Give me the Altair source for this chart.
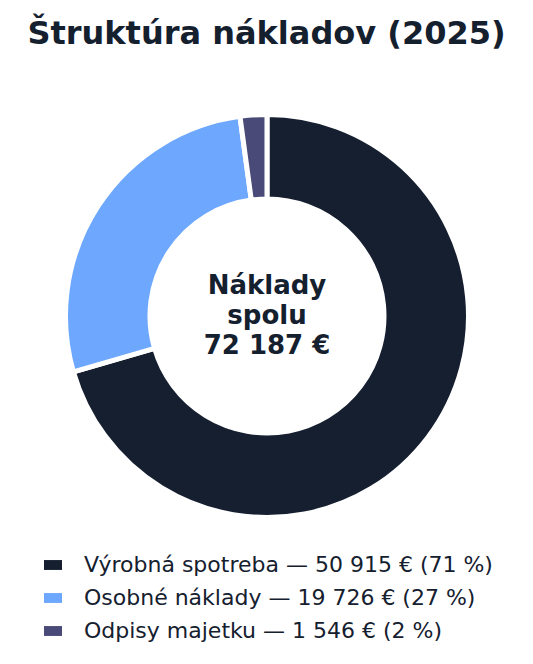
import altair as alt
import pandas as pd

categories = ["Výrobná spotreba", "Osobné náklady", "Odpisy majetku"]
values = [50915, 19726, 1546]
colors = ["#151f30", "#6ea8fe", "#4a4a78"]

total = sum(values)

def fmt(n):
    return f"{n:,}".replace(",", " ")

labels = [f"{c} — {fmt(v)} € ({round(v / total * 100)} %)" for c, v in zip(categories, values)]

df = pd.DataFrame({
    "label": labels,
    "value": values,
    "order": list(range(len(values))),
})
center_df = pd.DataFrame({"t": [f"Náklady\nspolu\n{fmt(total)} €"]})

P = 60
CX, CY = 259, 308 - P

arc = alt.Chart(df).mark_arc(
    innerRadius=117, outerRadius=201.5, stroke="white", strokeWidth=5
).encode(
    theta=alt.Theta("value:Q", stack=True),
    order=alt.Order("order:Q"),
    x=alt.value(CX),
    y=alt.value(CY),
    color=alt.Color(
        "label:N",
        sort=labels,
        scale=alt.Scale(domain=labels, range=colors),
        legend=alt.Legend(
            title=None,
            orient="none",
            legendX=34,
            legendY=546 - P,
            symbolType="M-1,-0.55H1V0.55H-1Z",
            symbolSize=324,
            symbolStrokeWidth=0,
            labelFontSize=22,
            labelColor="#15202f",
            labelFont="DejaVu Sans",
            labelOffset=20,
            rowPadding=11,
            padding=0,
            labelLimit=500,
        ),
    ),
)

center = alt.Chart(center_df).mark_text(
    font="DejaVu Sans",
    fontSize=26,
    fontWeight="bold",
    color="#15202f",
    lineBreak="\n",
    lineHeight=30,
    align="center",
    baseline="middle",
).encode(text="t:N", x=alt.value(CX), y=alt.value(CY - 30))

chart = alt.layer(arc, center).properties(
    width=517,
    height=648 - P,
    title=alt.TitleParams(
        "Štruktúra nákladov (2025)",
        fontSize=32,
        fontWeight="bold",
        font="DejaVu Sans",
        color="#15202f",
        anchor="middle",
        offset=17,
    ),
    padding={"top": P, "left": 0, "right": 0, "bottom": 0},
    autosize=alt.AutoSizeParams(type="none"),
).configure_view(stroke=None)

chart.save("out.html", embed_options={"renderer": "svg", "actions": False})
